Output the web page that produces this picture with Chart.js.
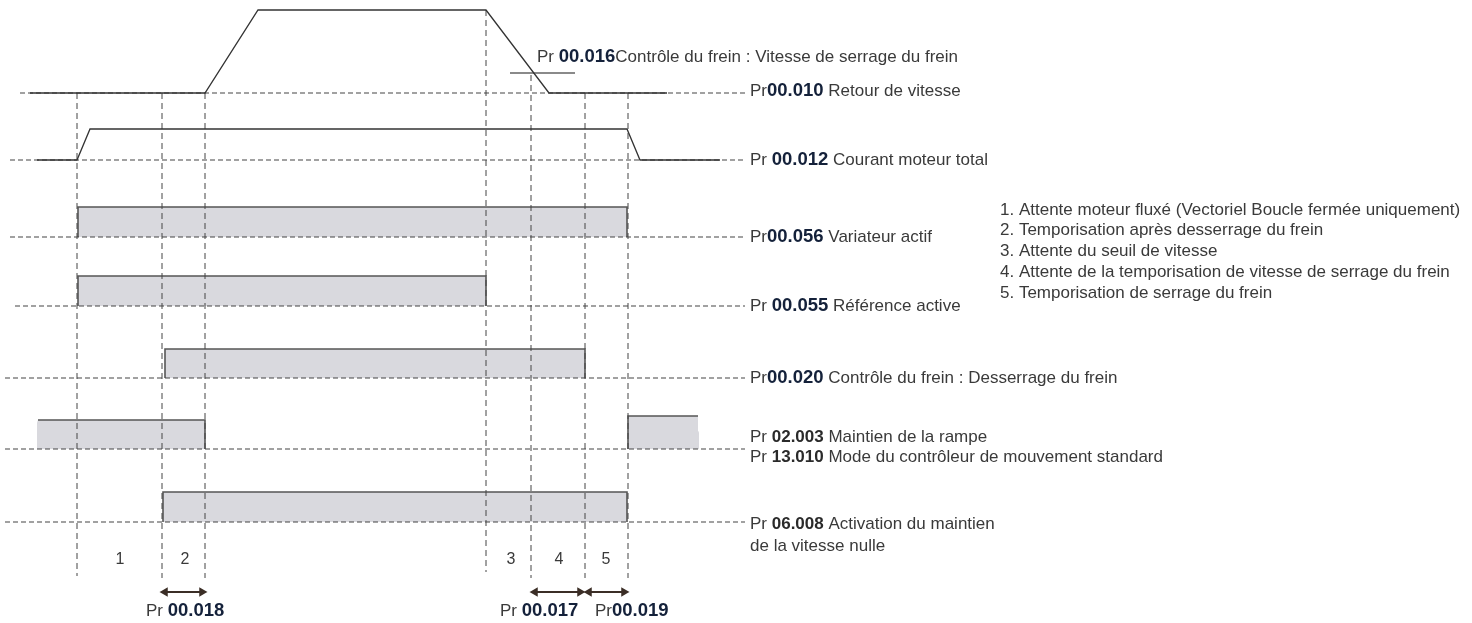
<!DOCTYPE html>
<html>
<head>
<meta charset="utf-8">
<script src="https://cdn.jsdelivr.net/npm/chart.js@4.4.1/dist/chart.umd.min.js"></script>
<style>
  html, body { margin: 0; padding: 0; background: #fff; }
  #wrap { width: 1472px; height: 623px; }
</style>
</head>
<body>
<div id="wrap"><canvas id="chart" width="1472" height="623"></canvas></div>
<script>
// Timing diagram: x = time (drawing units), y = row level (drawing units, top = 0)

// event instants (vertical guides) and how far each guide runs
const eventX = [77, 162, 205, 486, 531, 585, 628];
const guideTop = [93, 93, 93, 10, 75, 93, 93];
const guideBottom = [576, 578, 578, 572, 578, 578, 578];

// analog signals
const speedX = [30, 205, 258, 486, 549, 667];
const speedY = [93, 93, 10, 10, 93, 93];
const currentX = [37, 77, 90, 627, 640, 720];
const currentY = [160, 160, 129, 129, 160, 160];
const brakeSpeedX = [510, 575];
const brakeSpeedY = 73;

// row baselines (dashed)
const rowBase = [93, 160, 237, 306, 378, 449, 522];
const rowStart = [20, 10, 10, 15, 5, 5, 5];
const rowEnd = 745;

// logic bits (filled blocks)
const barStart = [78, 78, 165, 35, 628, 163];
const barEnd = [627, 486, 585, 205, 700, 627];
const barTop = [207, 276, 349, 420, 416, 492];
const barBase = [237, 306, 378, 449, 449, 522];
const barTorn = ["", "", "", "left", "right", ""];

// phase numbers and timer arrows
const phaseLabels = ["1", "2", "3", "4", "5"];
const phaseX = [120, 185, 511, 559, 606];
const phaseY = 560;
const arrowFrom = [165, 535, 589];
const arrowTo = [202, 580, 624];
const arrowY = 592;

const legendItems = [
    "1. Attente moteur fluxé (Vectoriel Boucle fermée uniquement)",
    "2. Temporisation après desserrage du frein",
    "3. Attente du seuil de vitesse",
    "4. Attente de la temporisation de vitesse de serrage du frein",
    "5. Temporisation de serrage du frein",
];
const legendY = [210, 230, 251, 272, 293];

// text runs: [text, style]  r = regular, b = parameter number, a = bold regular
const labels = [
    { x: 537, y: 57, runs: [["Pr ", "r"], ["00.016", "b"], ["Contrôle du frein : Vitesse de serrage du frein", "r"]] },
    { x: 750, y: 91, runs: [["Pr", "r"], ["00.010", "b"], [" Retour de vitesse", "r"]] },
    { x: 750, y: 160, runs: [["Pr ", "r"], ["00.012", "b"], [" Courant moteur total", "r"]] },
    { x: 750, y: 237, runs: [["Pr", "r"], ["00.056", "b"], [" Variateur actif", "r"]] },
    { x: 750, y: 306, runs: [["Pr ", "r"], ["00.055", "b"], [" Référence active", "r"]] },
    { x: 750, y: 378, runs: [["Pr", "r"], ["00.020", "b"], [" Contrôle du frein : Desserrage du frein", "r"]] },
    { x: 750, y: 437, runs: [["Pr ", "r"], ["02.003", "a"], [" Maintien de la rampe", "r"]] },
    { x: 750, y: 457, runs: [["Pr ", "r"], ["13.010", "a"], [" Mode du contrôleur de mouvement standard", "r"]] },
    { x: 750, y: 524, runs: [["Pr ", "r"], ["06.008", "a"], [" Activation du maintien", "r"]] },
    { x: 750, y: 546, runs: [["de la vitesse nulle", "r"]] },
    { x: 146, y: 611, runs: [["Pr ", "r"], ["00.018", "b"]] },
    { x: 500, y: 611, runs: [["Pr ", "r"], ["00.017", "b"]] },
    { x: 595, y: 611, runs: [["Pr", "r"], ["00.019", "b"]] },
];

const FONT = "'Liberation Sans', Arial, sans-serif";
const styles = {
    r: { font: "17px " + FONT, color: "#3a3a3a" },
    b: { font: "bold 18.5px " + FONT, color: "#14213a" },
    a: { font: "bold 17px " + FONT, color: "#2a2a2a" },
};

const pts = (xs, ys) => xs.map((x, i) => ({ x, y: Array.isArray(ys) ? ys[i] : ys }));

const datasets = [];

// signals on top
datasets.push({
    data: pts(speedX, speedY), borderColor: "#333", borderWidth: 1.3, order: 0,
});
datasets.push({
    data: pts(currentX, currentY), borderColor: "#333", borderWidth: 1.3, order: 0,
});
datasets.push({
    data: pts(brakeSpeedX, brakeSpeedY), borderColor: "#8a8a8a", borderWidth: 2, order: 0,
});

// timer arrows
arrowFrom.forEach((x0, i) => {
    datasets.push({
        data: [{ x: x0, y: arrowY }, { x: arrowTo[i], y: arrowY }],
        borderColor: "#3b2e26", backgroundColor: "#3b2e26", borderWidth: 2,
        pointStyle: "triangle", pointRadius: 3.5, pointRotation: [-90, 90],
        order: 0,
    });
});

// vertical guides
eventX.forEach((x, i) => {
    datasets.push({
        data: [{ x, y: guideTop[i] }, { x, y: guideBottom[i] }],
        borderColor: "#444", borderWidth: 1, borderDash: [6, 4], order: 2,
    });
});

// row baselines
rowBase.forEach((y, i) => {
    datasets.push({
        data: [{ x: rowStart[i], y }, { x: rowEnd, y }],
        borderColor: "#444", borderWidth: 1.2, borderDash: [5, 3], order: 3,
    });
});

// filled blocks
const tornWiggle = [0, -3, 1, -2, 1];
barStart.forEach((x0, i) => {
    const x1 = barEnd[i], top = barTop[i], base = barBase[i];
    let data, hidden = () => false;
    if (barTorn[i] === "left") {
        const left = tornWiggle.map((d, k) => ({
            x: x0 + 2 + d, y: base - (k * (base - top)) / (tornWiggle.length - 1),
        }));
        data = [...left, { x: x1, y: top }, { x: x1, y: base }];
        hidden = (c) => c.p0DataIndex < left.length - 1;
    } else if (barTorn[i] === "right") {
        const right = tornWiggle.map((d, k) => ({
            x: x1 - 2 + d, y: top + (k * (base - top)) / (tornWiggle.length - 1),
        }));
        data = [{ x: x0, y: base }, { x: x0, y: top }, ...right];
        hidden = (c) => c.p0DataIndex >= 2;
    } else {
        data = [{ x: x0, y: base }, { x: x0, y: top }, { x: x1, y: top }, { x: x1, y: base }];
    }
    datasets.push({
        data,
        borderColor: "#555",
        borderWidth: 1.6,
        backgroundColor: "#d9d9de",
        fill: { value: base },
        segment: { borderColor: (c) => (hidden(c) ? "rgba(0,0,0,0)" : undefined) },
        order: 5,
    });
});

const textPlugin = {
    id: "diagramText",
    afterDatasetsDraw(chart) {
        const { ctx, scales } = chart;
        const px = (v) => scales.x.getPixelForValue(v);
        const py = (v) => scales.y.getPixelForValue(v);
        ctx.save();
        ctx.textBaseline = "middle";
        ctx.textAlign = "left";
        labels.forEach((lab) => {
            let x = px(lab.x);
            lab.runs.forEach(([txt, st]) => {
                ctx.font = styles[st].font;
                ctx.fillStyle = styles[st].color;
                ctx.fillText(txt, x, py(lab.y));
                x += ctx.measureText(txt).width;
            });
        });
        ctx.font = styles.r.font;
        ctx.fillStyle = styles.r.color;
        legendItems.forEach((t, i) => ctx.fillText(t, px(1000), py(legendY[i])));
        ctx.textAlign = "center";
        ctx.font = "16px " + FONT;
        phaseLabels.forEach((t, i) => ctx.fillText(t, px(phaseX[i]), py(phaseY)));
        ctx.restore();
    },
};

new Chart(document.getElementById("chart"), {
    type: "line",
    data: { datasets },
    options: {
        responsive: false,
        animation: false,
        events: [],
        layout: { padding: 0, autoPadding: false },
        elements: { point: { radius: 0 }, line: { tension: 0 } },
        plugins: { legend: { display: false }, tooltip: { enabled: false } },
        scales: {
            x: { type: "linear", min: 0, max: 1472, display: false },
            y: { type: "linear", min: 0, max: 623, reverse: true, display: false },
        },
    },
    plugins: [textPlugin],
});
</script>
</body>
</html>
